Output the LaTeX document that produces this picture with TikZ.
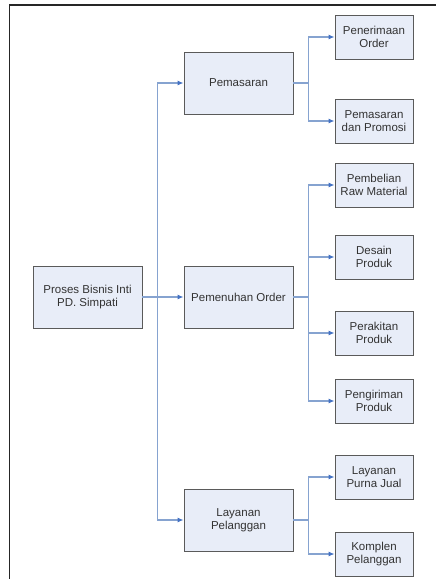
\documentclass[tikz,border=0pt]{standalone}
\usepackage{fontspec}
\setmainfont{Liberation Sans}
\usetikzlibrary{arrows.meta}
\definecolor{boxfill}{HTML}{E8EDF8}
\definecolor{boxline}{HTML}{5A5A5A}
\definecolor{conline}{HTML}{86A3D0}
\definecolor{tipblue}{HTML}{4472C4}
\definecolor{txt}{HTML}{333333}
\begin{document}
\begin{tikzpicture}[x=1pt,y=-1pt,
  every node/.style={font=\fontsize{11.5}{13.5}\selectfont, text=txt, align=center},
  bigbox/.style={draw=boxline, line width=0.9pt, fill=boxfill, minimum width=109pt, minimum height=62pt, inner sep=0pt},
  leafbox/.style={draw=boxline, line width=0.9pt, fill=boxfill, minimum width=78pt, minimum height=44pt, inner sep=0pt},
  conn/.style={draw=conline, line width=1.1pt, -{Latex[length=6pt,width=5pt,color=tipblue]}}]
\useasboundingbox (0,0) rectangle (436,579);
\draw[line width=1.5pt, color=black!85] (9.5,579) -- (9.5,5) -- (436,5);

\node[bigbox] (root) at (87.5,297) {Proses Bisnis Inti\\PD. Simpati};
\node[bigbox] (pem) at (238.5,83) {Pemasaran};
\node[bigbox] (pen) at (238.5,297) {Pemenuhan Order};
\node[bigbox] (lay) at (238.5,520) {Layanan\\Pelanggan};

\node[leafbox] (c1) at (374,37) {Penerimaan\\Order};
\node[leafbox] (c2) at (374,121) {Pemasaran\\dan Promosi};
\node[leafbox] (c3) at (374,185) {Pembelian\\Raw Material};
\node[leafbox] (c4) at (374,257) {Desain\\Produk};
\node[leafbox] (c5) at (374,333) {Perakitan\\Produk};
\node[leafbox] (c6) at (374,401) {Pengiriman\\Produk};
\node[leafbox] (c7) at (374,477) {Layanan\\Purna Jual};
\node[leafbox] (c8) at (374,554) {Komplen\\Pelanggan};

\draw[conn] (root.east) -- ++(15,0) |- (pem.west);
\draw[conn] (root.east) -- (pen.west);
\draw[conn] (root.east) -- ++(15,0) |- (lay.west);

\draw[conn] (pem.east) -- ++(15,0) |- (c1.west);
\draw[conn] (pem.east) -- ++(15,0) |- (c2.west);
\draw[conn] (pen.east) -- ++(15,0) |- (c3.west);
\draw[conn] (pen.east) -- ++(15,0) |- (c4.west);
\draw[conn] (pen.east) -- ++(15,0) |- (c5.west);
\draw[conn] (pen.east) -- ++(15,0) |- (c6.west);
\draw[conn] (lay.east) -- ++(15,0) |- (c7.west);
\draw[conn] (lay.east) -- ++(15,0) |- (c8.west);
\end{tikzpicture}
\end{document}
